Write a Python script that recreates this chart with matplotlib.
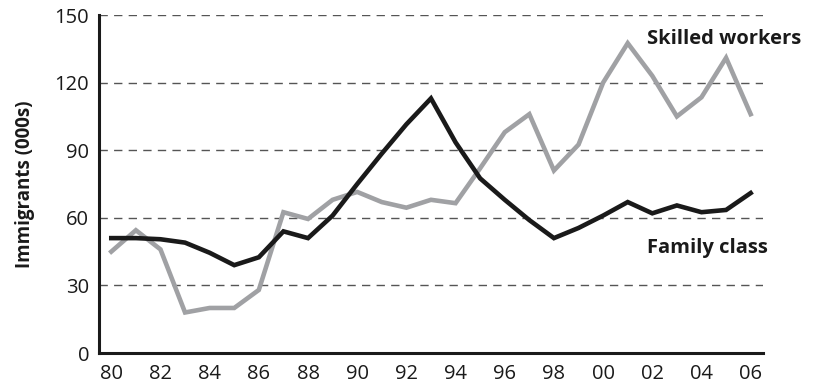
import matplotlib.pyplot as plt
import numpy as np

years = ['80', '81', '82', '83', '84', '85', '86', '87', '88', '89',
         '90', '91', '92', '93', '94', '95', '96', '97', '98', '99',
         '00', '01', '02', '03', '04', '05', '06']
skilled = [45, 54.5, 46, 18, 20, 20, 28, 62.5, 59.5, 68, 71.5, 67, 64.5, 68,
           66.5, 82, 98, 106, 81, 92.5, 120, 137.5, 123, 105, 113.5, 131, 106]
family = [51, 51, 50.5, 49, 44.5, 39, 42.5, 54, 51, 61, 75, 88.5, 101.5, 113,
          93.5, 77.5, 68, 59, 51, 55.5, 61, 67, 62, 65.5, 62.5, 63.5, 71]
yticks = [0, 30, 60, 90, 120, 150]

plt.rcParams['font.family'] = ['Open Sans', 'DejaVu Sans']

fig = plt.figure(figsize=(8.16, 3.85), dpi=100)
ax = fig.add_axes([0.1213, 0.083, 0.8137, 0.878])

x = np.arange(len(years))
for yv in yticks[1:]:
    ax.axhline(yv, color='#555555', lw=1.0, ls=(0, (6, 4.5)), zorder=1)

ax.plot(x, skilled, color='#a0a1a4', lw=3.3, solid_joinstyle='miter', zorder=3)
ax.plot(x, family, color='#1a1a1a', lw=3.3, solid_joinstyle='miter', zorder=4)

ax.set_xlim(-0.5, 26.5)
ax.set_ylim(0, 150)
ax.set_xticks(x[::2])
ax.set_xticklabels(years[::2])
ax.set_yticks(yticks)
ax.tick_params(length=0, labelsize=14.5, colors='#1a1a1a')
ax.tick_params(axis='y', pad=7)
ax.tick_params(axis='x', pad=8)

for s in ['top', 'right']:
    ax.spines[s].set_visible(False)
for s in ['left', 'bottom']:
    ax.spines[s].set_linewidth(2.2)
    ax.spines[s].set_color('#1a1a1a')

ax.set_ylabel('Immigrants (000s)', fontsize=13.5, fontweight='bold',
              color='#1a1a1a', labelpad=14)

ax.text(21.8, 139.5, 'Skilled workers', fontsize=14.5, fontweight='bold',
        color='#1a1a1a', ha='left', va='center')
ax.text(21.8, 46.5, 'Family class', fontsize=14.5, fontweight='bold',
        color='#1a1a1a', ha='left', va='center')

fig.savefig('out.png', dpi=100)
